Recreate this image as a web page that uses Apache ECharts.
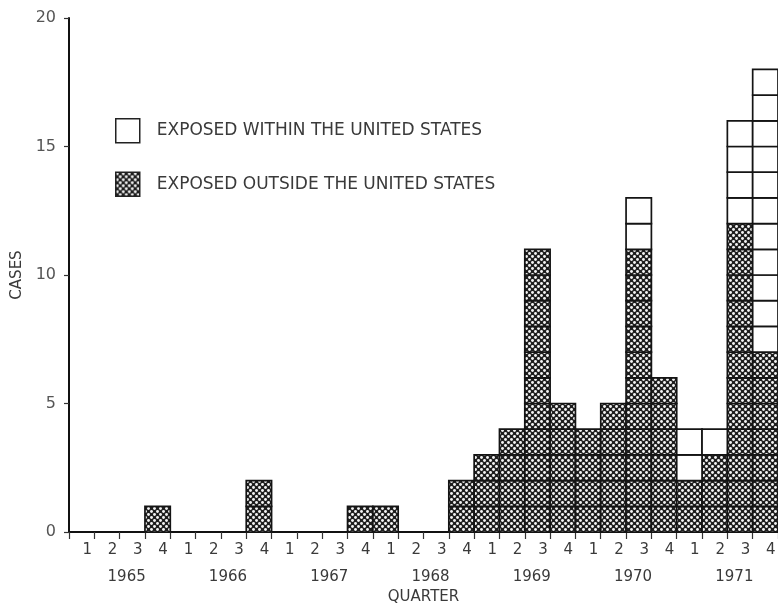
<!DOCTYPE html>
<html>
<head>
<meta charset="utf-8">
<script src="https://cdn.jsdelivr.net/npm/echarts@6/dist/echarts.min.js"></script>
<style>
html,body{margin:0;padding:0;background:#fff;}
#chart{width:778px;height:605px;}
</style>
</head>
<body>
<div id="chart"></div>
<script>
// ---- data ----
const years = ['1965', '1966', '1967', '1968', '1969', '1970', '1971'];
const quarterLabels = ['1', '2', '3', '4'];
const categories = [];
years.forEach(y => quarterLabels.forEach(q => categories.push(y + ' Q' + q)));
const outsideUS = [0,0,0,1, 0,0,0,2, 0,0,0,1, 1,0,0,2, 3,4,11,5, 4,5,11,6, 2,3,12,7];
const withinUS  = [0,0,0,0, 0,0,0,0, 0,0,0,0, 0,0,0,0, 0,0,0,0, 0,0,2,0, 2,1,4,11];
const yTicks = [0, 5, 10, 15, 20];
const seriesNames = ['EXPOSED WITHIN THE UNITED STATES', 'EXPOSED OUTSIDE THE UNITED STATES'];

// ---- pattern ----
function makePattern() {
  const c = document.createElement('canvas');
  c.width = 6; c.height = 6;
  const ctx = c.getContext('2d');
  ctx.fillStyle = '#1e1e1e';
  ctx.fillRect(0, 0, 6, 6);
  ctx.fillStyle = '#f4f4f4';
  [[1.5,1.5],[4.5,4.5]].forEach(p => {
    ctx.beginPath(); ctx.arc(p[0], p[1], 1.45, 0, Math.PI * 2); ctx.fill();
  });
  return c;
}
const hatch = { image: makePattern(), repeat: 'repeat' };

function cellRenderer(fill) {
  return function (params, api) {
    const x = api.value(0), base = api.value(1), n = api.value(2);
    const w = api.size([1, 0])[0];
    const children = [];
    for (let j = 0; j < n; j++) {
      const p0 = api.coord([x, base + j]);
      const p1 = api.coord([x, base + j + 1]);
      children.push({
        type: 'rect',
        shape: { x: p0[0] - w / 2, y: p1[1], width: w, height: p0[1] - p1[1] },
        style: { fill: fill, stroke: '#141414', lineWidth: 1.7 }
      });
    }
    return { type: 'group', children: children };
  };
}

const outsideData = outsideUS.map((v, i) => [i, 0, v]);
const withinData = withinUS.map((v, i) => [i, outsideUS[i], v]);

const font = 'DejaVu Sans';
const textColor = '#3a3a3a';

const chart = echarts.init(document.getElementById('chart'), null, { renderer: 'canvas' });
chart.setOption({
  backgroundColor: '#ffffff',
  animation: false,
  textStyle: { fontFamily: font },
  grid: { left: 69, top: 18, width: 709, height: 514, containLabel: false, outerBoundsMode: 'none' },
  legend: {
    orient: 'vertical',
    left: 110, top: 113,
    padding: 5,
    itemWidth: 24, itemHeight: 24,
    itemGap: 28,
    selectedMode: false,
    textStyle: { fontFamily: font, fontSize: 17, color: textColor, padding: [0, 0, 0, 12] },
    data: [
      { name: seriesNames[0], icon: 'rect', itemStyle: { color: '#ffffff', borderColor: '#222', borderWidth: 1.5 } },
      { name: seriesNames[1], icon: 'rect', itemStyle: { color: hatch, borderColor: '#222', borderWidth: 1.5 } }
    ]
  },
  xAxis: [
    {
      type: 'category',
      data: categories,
      boundaryGap: true,
      name: 'QUARTER',
      nameLocation: 'middle',
      nameGap: 58,
      nameTextStyle: { fontFamily: font, fontSize: 15, color: textColor },
      axisLine: { lineStyle: { color: '#111', width: 2 } },
      axisTick: { show: true, alignWithLabel: false, length: 7, lineStyle: { color: '#333', width: 1.2 } },
      axisLabel: {
        interval: 0,
        margin: 11,
        fontFamily: font, fontSize: 15, color: textColor,
        padding: [0, 0, 0, 11],
        formatter: v => v.split(' Q')[1]
      },
      splitLine: { show: false }
    },
    {
      type: 'category',
      data: years,
      position: 'bottom',
      offset: 30,
      axisLine: { show: false },
      axisTick: { show: false },
      axisLabel: { interval: 0, fontFamily: font, fontSize: 15, color: textColor, padding: [0, 0, 0, 14] },
      splitLine: { show: false }
    }
  ],
  yAxis: {
    type: 'value',
    min: 0, max: 20, interval: 5,
    name: 'CASES',
    nameLocation: 'middle',
    nameRotate: 90,
    nameGap: 44,
    nameTextStyle: { fontFamily: font, fontSize: 15, color: textColor },
    axisLine: { show: true, lineStyle: { color: '#111', width: 2 } },
    axisTick: { show: true, length: 5, lineStyle: { color: '#333', width: 1.2 } },
    axisLabel: {
      fontFamily: font, fontSize: 16, color: '#555', margin: 13,
      formatter: v => (yTicks.indexOf(v) >= 0 ? String(v) : '')
    },
    splitLine: { show: false }
  },
  series: [
    {
      name: seriesNames[1],
      type: 'custom',
      xAxisIndex: 0,
      renderItem: cellRenderer(hatch),
      encode: { x: 0, y: [1, 2] },
      itemStyle: { color: hatch },
      data: outsideData
    },
    {
      name: seriesNames[0],
      type: 'custom',
      xAxisIndex: 0,
      renderItem: cellRenderer('#ffffff'),
      encode: { x: 0, y: [1, 2] },
      itemStyle: { color: '#ffffff' },
      data: withinData
    }
  ]
});
</script>
</body>
</html>
